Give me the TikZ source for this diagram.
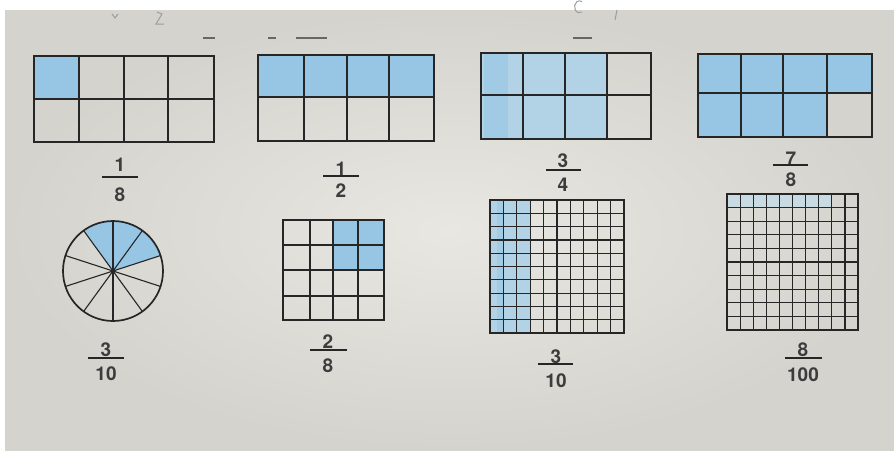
\documentclass[tikz,border=0pt]{standalone}
\usepackage{fontspec}
\setmainfont{TeX Gyre Heros}
\definecolor{paperin}{RGB}{232,231,226}
\definecolor{paperout}{RGB}{212,211,205}
\definecolor{pencil}{RGB}{150,198,228}
\definecolor{pencillight}{RGB}{178,210,230}
\definecolor{pencilfaint}{RGB}{200,218,226}
\definecolor{ink}{RGB}{38,38,38}
\tikzset{
  gridline/.style={draw=ink, line width=1.1pt},
  fineline/.style={draw=ink, line width=1.2pt},
  frame/.style={draw=ink, line width=1.7pt},
  midline/.style={draw=ink, line width=1.8pt},
  blue/.style={fill=pencil},
  digit/.style={font=\fontsize{19}{20}\selectfont\bfseries, text=ink!90, inner sep=0pt},
  fracbar/.style={draw=ink, line width=1.5pt},
  faint/.style={draw=ink!70, line width=1.2pt},
}
\begin{document}
\begin{tikzpicture}[x=1pt,y=-1pt]
\useasboundingbox (0,0) rectangle (894,450);
\fill[white] (0,0) rectangle (894,450);
\shade[inner color=paperin, outer color=paperout] (5,10) rectangle (894,450);

% faint marks at top
\draw[faint] (203,38) -- (215,38);
\draw[faint] (268,38) -- (276,38);
\draw[faint] (296,38) -- (327,38);
\draw[faint] (573,38) -- (592,38);
\draw[draw=ink!45, line width=1pt] (157,12) -- (162,14) -- (156,24) -- (164,24);
\draw[draw=ink!45, line width=1pt] (112,14) -- (115,18) -- (118,14);
\draw[draw=ink!45, line width=1pt] (582,12) arc[start angle=60, end angle=300, x radius=5, y radius=6];
\draw[draw=ink!45, line width=1pt] (617,10) -- (615,20);

% ---- rectangle 1 : 1/8
\fill[blue] (34,56) rectangle (79,99);
\foreach \x in {79,124,168} \draw[gridline] (\x,56) -- (\x,142);
\draw[midline] (34,99) -- (214,99);
\draw[frame] (34,56) rectangle (214,142);

% ---- rectangle 2 : 1/2
\fill[blue] (258,55) rectangle (434,97);
\foreach \x in {304,347,389} \draw[gridline] (\x,55) -- (\x,141);
\draw[midline] (258,97) -- (434,97);
\draw[frame] (258,55) rectangle (434,141);

% ---- rectangle 3 : 3/4
\fill[pencillight] (481,53) rectangle (607,139);
\fill[pencil, opacity=0.6] (484,53) rectangle (508,139);
\foreach \x in {523,565,607} \draw[gridline] (\x,53) -- (\x,139);
\draw[midline] (481,95) -- (651,95);
\draw[frame] (481,53) rectangle (651,139);

% ---- rectangle 4 : 7/8
\fill[blue] (698,54) rectangle (872,93);
\fill[blue] (698,93) rectangle (827,137);
\foreach \x in {741,783,827} \draw[gridline] (\x,54) -- (\x,137);
\draw[midline] (698,93) -- (872,93);
\draw[frame] (698,54) rectangle (872,137);

% ---- circle : 3/10
\coordinate (cc) at (113,271);
\fill[blue] (cc) -- ++(-18:50) arc[start angle=-18, end angle=-126, radius=50] -- cycle;
\foreach \a in {18,54,...,342} \draw[gridline] (cc) -- ++(-\a:50);
\draw[frame] (cc) circle[radius=50];
\fill[ink] (cc) circle[radius=2.2];

% ---- 4x4 grid : 2/8
\fill[blue] (333,220) rectangle (384,270);
\foreach \x in {310,333,358} \draw[gridline] (\x,220) -- (\x,320);
\foreach \y in {245,270,296} \draw[midline] (283,\y) -- (384,\y);
\draw[frame] (283,220) rectangle (384,320);

% ---- 10x10 grid : 3/10
\fill[pencillight] (490,200) rectangle (530.2,333);
\fill[pencil, opacity=0.5] (497,200) rectangle (503,333);
\foreach \i in {1,...,9} \draw[fineline] ({490+\i*13.4},200) -- ({490+\i*13.4},333);
\foreach \i in {1,...,9} \draw[fineline] (490,{200+\i*13.3}) -- (624,{200+\i*13.3});
\draw[frame] (490,200) rectangle (624,333);

% ---- 10x10 grid : 8/100
\fill[pencilfaint] (727,194) rectangle (831.8,207.6);
\foreach \i in {1,...,9} \draw[fineline] ({727+\i*13.1},194) -- ({727+\i*13.1},330);
\foreach \i in {1,...,9} \draw[fineline] (727,{194+\i*13.6}) -- (858,{194+\i*13.6});
\draw[frame] (727,194) rectangle (858,330);

% ---- fractions
\node[digit] (n1) at (120,165) {1};
\node[digit] (d1) at (120,195) {8};
\draw[fracbar] (102,177) -- (138,177);

\node[digit] (n2) at (341,169) {1};
\node[digit] (d2) at (341,191) {2};
\draw[fracbar] (323,176) -- (359,176);

\node[digit] (n3) at (563,161) {3};
\node[digit] (d3) at (563,185) {4};
\draw[fracbar] (546,170) -- (581,170);

\node[digit] (n4) at (791,159) {7};
\node[digit] (d4) at (791,180) {8};
\draw[fracbar] (773,165) -- (808,165);

\node[digit] (n5) at (106,350) {3};
\node[digit] (d5) at (106,374) {10};
\draw[fracbar] (88,358) -- (124,358);

\node[digit] (n6) at (328,342) {2};
\node[digit] (d6) at (328,366) {8};
\draw[fracbar] (310,350) -- (347,350);

\node[digit] (n7) at (556,357) {3};
\node[digit] (d7) at (556,381) {10};
\draw[fracbar] (538,364) -- (573,364);

\node[digit] (n8) at (803,350) {8};
\node[digit] (d8) at (803,375) {100};
\draw[fracbar] (785,358) -- (822,358);
\end{tikzpicture}
\end{document}
